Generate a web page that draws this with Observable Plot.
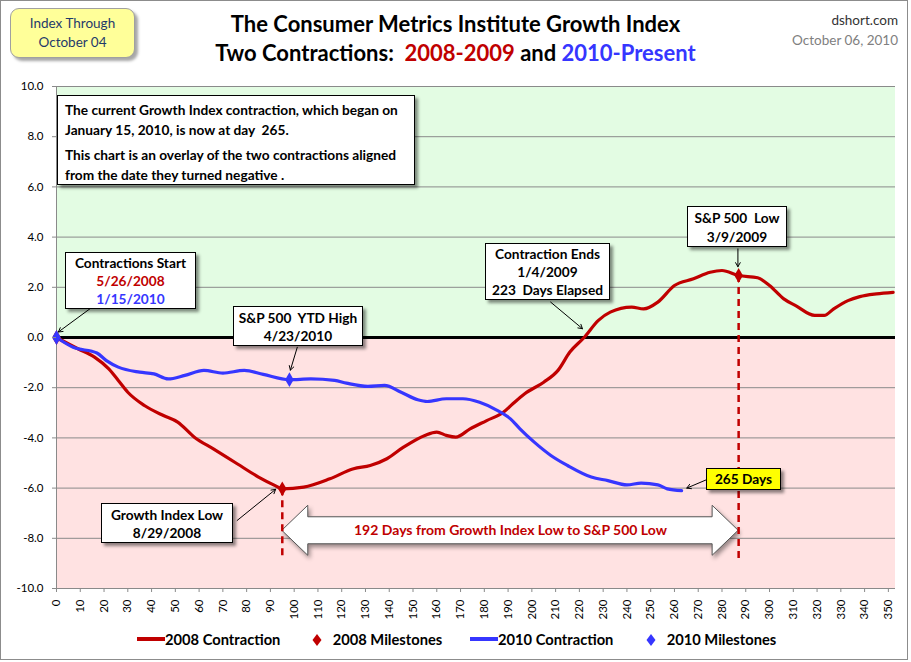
<!DOCTYPE html>
<html><head><meta charset="utf-8">
<script src="https://cdn.jsdelivr.net/npm/d3@7"></script>
<script src="https://cdn.jsdelivr.net/npm/@observablehq/plot@0.6"></script>
<style>
body{margin:0;background:#fff;font-family:Lato,"Open Sans",sans-serif;}
#wrap{position:relative;width:911px;height:662px;overflow:hidden;background:#fff}
#plot{position:absolute;left:0;top:0}
.frame{position:absolute;left:0;top:0;width:906px;height:658px;border:1px solid #8c8c8c;pointer-events:none}
.abs{position:absolute;white-space:nowrap}
.box{position:absolute;background:#fff;border:1px solid #000;box-shadow:3px 3px 3px rgba(0,0,0,0.45);font-weight:700;font-size:13.7px;color:#000;text-align:center;box-sizing:border-box;white-space:nowrap}
.title{position:absolute;left:0;width:911px;text-align:center;font-weight:700;font-size:22px;color:#000;white-space:nowrap}
.leg{position:absolute;top:630px;font-weight:700;font-size:14.7px;color:#000;white-space:nowrap;line-height:18px}
</style>
</head><body>
<div id="wrap">
  <div id="plot"></div>
</div>
<script>
// ---------- data ----------
const days2008 = [0, 9, 16, 22, 26, 30, 37, 45, 51, 58, 66, 76, 85, 92, 95, 104, 115, 125, 132, 139, 146, 155, 160, 164, 168, 174, 181, 188, 192, 197, 205, 211, 216, 222, 228, 233, 242, 247, 253, 260, 268, 275, 280, 287, 295, 300, 306, 311, 319, 323, 327, 333, 338, 345, 352];
const values2008 = [0, -0.45, -0.78, -1.25, -1.71, -2.18, -2.71, -3.11, -3.37, -3.97, -4.44, -5.03, -5.56, -5.9, -6.03, -5.96, -5.63, -5.23, -5.1, -4.83, -4.37, -3.9, -3.77, -3.9, -3.97, -3.64, -3.31, -2.98, -2.64, -2.24, -1.78, -1.31, -0.58, 0, 0.68, 1.01, 1.21, 1.14, 1.41, 2.07, 2.34, 2.6, 2.67, 2.47, 2.38, 2.07, 1.54, 1.27, 0.88, 0.88, 1.14, 1.47, 1.63, 1.74, 1.8];
const days2010 = [0, 7, 17, 21, 26, 35, 41, 47, 54, 62, 70, 79, 87, 98, 107, 117, 122, 131, 138, 145, 152, 156, 164, 171, 178, 185, 191, 195, 201, 208, 215, 225, 232, 240, 246, 253, 257, 263];
const values2010 = [0, -0.39, -0.62, -0.92, -1.18, -1.38, -1.45, -1.65, -1.51, -1.31, -1.42, -1.31, -1.47, -1.68, -1.65, -1.71, -1.82, -1.95, -1.91, -2.18, -2.48, -2.55, -2.44, -2.44, -2.58, -2.88, -3.24, -3.64, -4.17, -4.7, -5.1, -5.56, -5.7, -5.87, -5.8, -5.87, -6.03, -6.1];
const milestoneDays2008 = [0, 95, 287];
const milestoneValues2008 = [0, -6.03, 2.47];
const milestoneDays2010 = [0, 98];
const milestoneValues2010 = [0, -1.68];
const xTicks = d3.range(0, 351, 10);
const yTicks = [10, 8, 6, 4, 2, 0, -2, -4, -6, -8, -10];
const xDomain = [0, 353];
const yDomain = [-10, 10];

const RED = "#C00000", BLUE = "#3636FF";

const series2008 = days2008.map((d, i) => ({day: d, value: values2008[i]}));
const series2010 = days2010.map((d, i) => ({day: d, value: values2010[i]}));
const ms2008 = milestoneDays2008.map((d, i) => ({day: d, value: milestoneValues2008[i]}));
const ms2010 = milestoneDays2010.map((d, i) => ({day: d, value: milestoneValues2010[i]}));

// annotation arrows (data coordinates: day / index value)
const arrows = [
  {x1: 14.3, y1: 1.16, x2: 0.8, y2: 0.22},
  {x1: 101.3, y1: -0.39, x2: 98.4, y2: -1.3},
  {x1: 76, y1: -7.29, x2: 92.2, y2: -6.05},
  {x1: 207.9, y1: 1.41, x2: 221.3, y2: 0.35},
  {x1: 286.7, y1: 3.53, x2: 286.7, y2: 2.82},
  {x1: 273.4, y1: -5.67, x2: 265.2, y2: -6.0}
];
const spanStart = 95, spanEnd = 287, spanY = -7.7;

const bigArrow = (index, scales) => {
  const sx = scales.x, sy = scales.y;
  const xl = sx(spanStart), xr = sx(spanEnd), yc = sy(spanY);
  const hl = 26, hh = 25, bh = 13.5;
  const pts = [[xl, yc], [xl + hl, yc - hh], [xl + hl, yc - bh], [xr - hl, yc - bh], [xr - hl, yc - hh], [xr, yc], [xr - hl, yc + hh], [xr - hl, yc + bh], [xl + hl, yc + bh], [xl + hl, yc + hh]];
  const g = d3.create("svg:g");
  g.append("polygon").attr("points", pts.map(p => p.join(",")).join(" "))
    .attr("fill", "#fff").attr("stroke", "#555").attr("stroke-width", 1)
    .style("filter", "drop-shadow(2px 3px 2px rgba(0,0,0,0.4))");
  return g.node();
};

const chart = Plot.plot({
  width: 911, height: 662,
  marginLeft: 56, marginRight: 16, marginTop: 86, marginBottom: 74,
  x: {domain: xDomain},
  y: {domain: yDomain},
  style: {fontFamily: "Lato, sans-serif", fontSize: "11.5px", color: "#000", background: "transparent", overflow: "visible"},
  marks: [
    Plot.rect([0], {x1: () => xDomain[0], x2: () => xDomain[1], y1: () => 0, y2: () => yDomain[1], fill: "#E3FCE3"}),
    Plot.rect([0], {x1: () => xDomain[0], x2: () => xDomain[1], y1: () => yDomain[0], y2: () => 0, fill: "#FFE2E2"}),
    Plot.ruleY(yTicks.filter(d => d !== 0), {stroke: "#8a8a8a", strokeWidth: 1}),
    Plot.ruleX([xDomain[0]], {stroke: "#8a8a8a", strokeWidth: 1}),
    Plot.ruleY([0], {stroke: "#000", strokeWidth: 3}),
    bigArrow,
    Plot.text([0], {x: () => (spanStart + spanEnd) / 2, y: () => spanY, text: () => "192 Days from Growth Index Low to S&P 500 Low", fill: RED, fontWeight: "bold", fontSize: 14}),
    Plot.ruleX(ms2008.filter(d => d.day > 0), {x: "day", y1: "value", y2: () => -8.8, stroke: RED, strokeWidth: 2.5, strokeDasharray: "7,5"}),
    Plot.line(series2008, {x: "day", y: "value", stroke: RED, strokeWidth: 3.2, curve: "monotone-x"}),
    Plot.line(series2010, {x: "day", y: "value", stroke: BLUE, strokeWidth: 3.2, curve: "monotone-x"}),
    Plot.dot(ms2008, {x: "day", y: "value", symbol: "diamond", r: 4.5, fill: RED}),
    Plot.dot(ms2010, {x: "day", y: "value", symbol: "diamond", r: 4.5, fill: BLUE}),
    Plot.arrow(arrows, {x1: "x1", y1: "y1", x2: "x2", y2: "y2", stroke: "#000", strokeWidth: 1, headLength: 7}),
    Plot.axisY({ticks: yTicks, tickFormat: d => d.toFixed(1), tickSize: 4, tickPadding: 9, stroke: "#8a8a8a", label: null}),
    Plot.axisX({ticks: xTicks, tickFormat: d => String(d), tickRotate: -90, tickSize: 4, tickPadding: 7, stroke: "#8a8a8a", label: null})
  ]
});
document.getElementById("plot").appendChild(chart);

// ---------- overlays ----------
const wrap = document.getElementById("wrap");
function add(html) { wrap.insertAdjacentHTML("beforeend", html); }

add(`<div class="frame"></div>`);
add(`<div class="abs" style="left:10px;top:8px;width:125px;height:50px;box-sizing:border-box;background:#FFFF99;border:1px solid #a0a0a0;border-radius:9px;box-shadow:3px 3px 3px rgba(0,0,0,0.35);text-align:center;font-size:13.5px;line-height:19px;padding-top:5px;color:#1F3A6A">Index Through<br>October 04</div>`);
add(`<div class="title" style="top:10px;line-height:28px">The Consumer Metrics Institute Growth Index</div>`);
add(`<div class="title" style="top:39px;line-height:28px">Two Contractions:&nbsp; <span style="color:${RED}">2008-2009</span> and <span style="color:${BLUE}">2010-Present</span></div>`);
add(`<div class="abs" style="right:13px;top:10px;text-align:right;font-size:13.5px;line-height:20px;color:#333">dshort.com<br><span style="color:#808080">October 06, 2010</span></div>`);

add(`<div class="box" style="left:57px;top:95px;width:358px;height:90px;text-align:left;padding:4px 0 0 7px;line-height:20px">The current Growth Index contraction, which began on<br>January 15, 2010, is now at day&nbsp; 265.<div style="height:5px"></div>This chart is an overlay of the two contractions aligned<br>from the date they turned negative .</div>`);
add(`<div class="box" style="left:65px;top:252px;width:131px;height:57px;line-height:18px;padding-top:1px">Contractions Start<br><span style="color:${RED}">5/26/2008</span><br><span style="color:${BLUE}">1/15/2010</span></div>`);
add(`<div class="box" style="left:233px;top:306px;width:130px;height:40px;line-height:18px;padding-top:2px">S&amp;P 500&nbsp; YTD High<br>4/23/2010</div>`);
add(`<div class="box" style="left:101px;top:503px;width:132px;height:40px;line-height:18px;padding-top:2px">Growth Index Low<br>8/29/2008</div>`);
add(`<div class="box" style="left:485px;top:243px;width:125px;height:57px;line-height:18px;padding-top:1px">Contraction Ends<br>1/4/2009<br>223&nbsp; Days Elapsed</div>`);
add(`<div class="box" style="left:687px;top:206px;width:100px;height:41px;line-height:19px;padding-top:1px">S&amp;P 500&nbsp; Low<br>3/9/2009</div>`);
add(`<div class="box" style="left:706px;top:468px;width:75px;height:22px;line-height:20px;background:#FFFF00">265 Days</div>`);

// legend
const diamond = c => `<svg width="10" height="12" style="vertical-align:-1px"><polygon points="5,0 9.5,6 5,12 0.5,6" fill="${c}"/></svg>`;
add(`<div class="leg" style="left:137px"><span style="display:inline-block;width:28px;height:4px;background:${RED};vertical-align:4px"></span>2008 Contraction</div>`);
add(`<div class="leg" style="left:312px">${diamond(RED)}&nbsp;&nbsp; 2008 Milestones</div>`);
add(`<div class="leg" style="left:470px"><span style="display:inline-block;width:28px;height:4px;background:${BLUE};vertical-align:4px"></span>2010 Contraction</div>`);
add(`<div class="leg" style="left:646px">${diamond(BLUE)}&nbsp;&nbsp; 2010 Milestones</div>`);
</script>
</body></html>
